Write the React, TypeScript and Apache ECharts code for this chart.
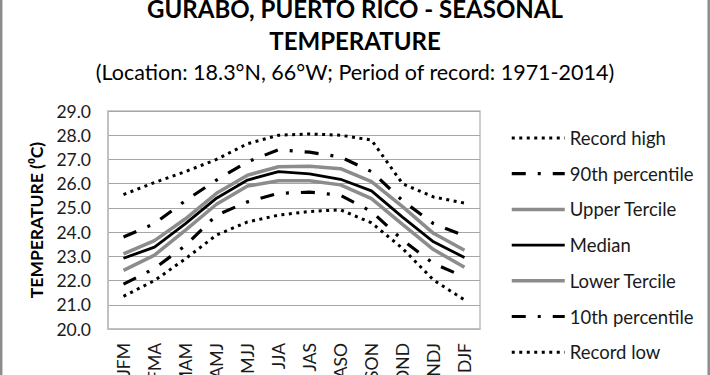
import React, { useEffect, useRef } from "react";
import * as echarts from "echarts";

const categories = ["JFM", "FMA", "MAM", "AMJ", "MJJ", "JJA", "JAS", "ASO", "SON", "OND", "NDJ", "DJF"];
const recordHigh = [25.55, 26.05, 26.5, 27.0, 27.65, 28.0, 28.05, 28.0, 27.8, 26.0, 25.45, 25.2];
const p90 = [23.8, 24.35, 25.3, 26.15, 26.9, 27.4, 27.3, 27.1, 26.5, 25.3, 24.35, 23.85];
const upperTercile = [23.1, 23.65, 24.55, 25.6, 26.35, 26.7, 26.72, 26.62, 26.08, 25.05, 23.95, 23.25];
const median = [22.92, 23.38, 24.35, 25.4, 26.15, 26.5, 26.4, 26.18, 25.7, 24.62, 23.6, 22.95];
const lowerTercile = [22.42, 23.05, 24.08, 25.15, 25.9, 26.12, 26.12, 25.95, 25.38, 24.32, 23.28, 22.55];
const p10 = [21.85, 22.5, 23.45, 24.7, 25.25, 25.6, 25.65, 25.52, 24.85, 23.68, 22.7, 22.15];
const recordLow = [21.35, 22.0, 22.9, 23.88, 24.42, 24.7, 24.85, 24.92, 24.38, 23.33, 22.02, 21.2];
const yTicks = [20, 21, 22, 23, 24, 25, 26, 27, 28, 29];

const FONT = "Lato";

export default function App() {
  const ref = useRef<HTMLDivElement>(null);
  useEffect(() => {
    if (!ref.current) return;
    const chart = echarts.init(ref.current, null, { renderer: "svg" });
    const dotted = { color: "#000", width: 3, type: [3, 4.5], cap: "butt" };
    const dashDot = { color: "#000", width: 3.2, type: [14, 12, 3, 12], cap: "butt" };
    const tercile = { color: "#8c8c8c", width: 3.5, type: "solid" };
    const med = { color: "#000", width: 2.8, type: "solid" };
    const mk = (name: string, data: number[], ls: any) => ({
      name,
      type: "line",
      data,
      symbol: "none",
      lineStyle: ls,
      itemStyle: { color: ls.color },
      z: 3,
    });
    chart.setOption({
      animation: false,
      backgroundColor: "#fff",
      textStyle: { fontFamily: FONT },
      title: [
        {
          text: "GURABO, PUERTO RICO - SEASONAL",
          left: "center",
          top: -4,
          padding: 0,
          textStyle: { fontFamily: FONT, fontSize: 24, fontWeight: "bold", color: "#000", lineHeight: 24 },
        },
        {
          text: "TEMPERATURE",
          left: "center",
          top: 28,
          padding: 0,
          textStyle: { fontFamily: FONT, fontSize: 24, fontWeight: "bold", color: "#000", lineHeight: 24 },
        },
        {
          text: "(Location: 18.3°N, 66°W; Period of record: 1971-2014)",
          left: "center",
          top: 61,
          padding: 0,
          textStyle: { fontFamily: FONT, fontSize: 21.5, fontWeight: "normal", color: "#000", lineHeight: 21.5 },
        },
      ],
      legend: {
        orient: "vertical",
        left: 510,
        top: 128.5,
        padding: 0,
        itemWidth: 53,
        itemHeight: 18,
        itemGap: 16.7,
        itemStyle: { opacity: 0 },
        lineStyle: { width: "inherit" },
        textStyle: { fontFamily: FONT, fontSize: 18.5, color: "#1a1a1a", lineHeight: 18 },
        data: ["Record high", "90th percentile", "Upper Tercile", "Median", "Lower Tercile", "10th percentile", "Record low"],
      },
      grid: {
        left: 108,
        top: 111,
        right: 230,
        bottom: 46,
        show: true,
        borderColor: "#bdbdbd",
        borderWidth: 1.5,
        containLabel: false,
        outerBoundsMode: "none",
      },
      xAxis: {
        type: "category",
        data: categories,
        boundaryGap: true,
        axisLine: { show: true, lineStyle: { color: "#bdbdbd", width: 1.5 } },
        axisTick: { show: false },
        axisLabel: { rotate: 90, margin: 14, fontFamily: FONT, fontSize: 17.5, color: "#1a1a1a", interval: 0 },
        splitLine: { show: false },
      },
      yAxis: {
        type: "value",
        min: yTicks[0],
        max: yTicks[yTicks.length - 1],
        interval: 1,
        name: "TEMPERATURE (⁰C)",
        nameLocation: "middle",
        nameGap: 63,
        nameTextStyle: { fontFamily: FONT, fontSize: 17.5, fontWeight: "bold", color: "#000" },
        axisLine: { show: true, lineStyle: { color: "#bdbdbd", width: 1.5 } },
        axisTick: { show: false },
        axisLabel: {
          margin: 17,
          fontFamily: FONT,
          fontSize: 17.5,
          color: "#1a1a1a",
          formatter: (v: number) => v.toFixed(1),
        },
        splitLine: { show: true, lineStyle: { color: "#a6a6a6", width: 1.2 } },
      },
      series: [
        mk("Record high", recordHigh, dotted),
        mk("90th percentile", p90, dashDot),
        mk("Upper Tercile", upperTercile, tercile),
        mk("Median", median, med),
        mk("Lower Tercile", lowerTercile, tercile),
        mk("10th percentile", p10, dashDot),
        mk("Record low", recordLow, dotted),
      ],
      graphic: [
        {
          type: "rect",
          shape: { x: 1.2, y: -10, width: 707.5, height: 400 },
          style: { fill: "none", stroke: "#8c8c8c", lineWidth: 2.5 },
          silent: true,
          z: 100,
        },
      ],
    });
    return () => chart.dispose();
  }, []);
  return (
    <div
      ref={ref}
      style={{ position: "fixed", left: 0, top: 0, width: 710, height: 375 }}
    />
  );
}
